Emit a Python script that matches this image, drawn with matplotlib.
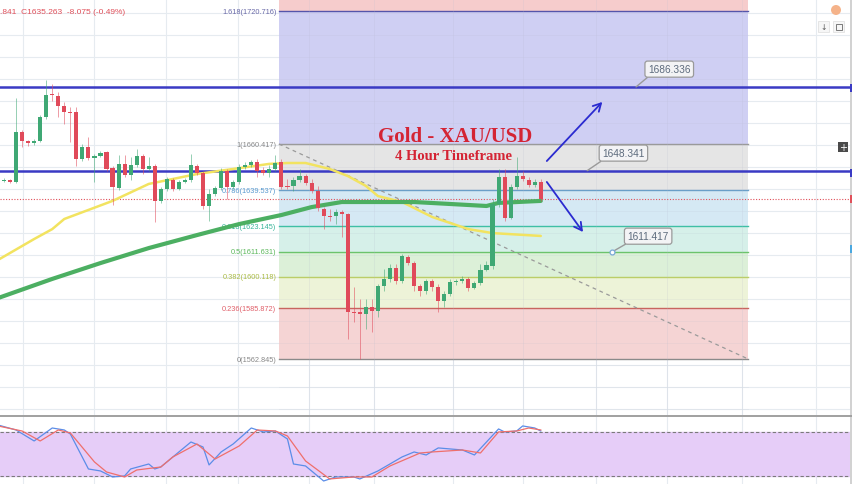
import matplotlib
matplotlib.use("Agg")
import matplotlib.pyplot as plt
from matplotlib.patches import Rectangle, Ellipse
from matplotlib.lines import Line2D

# ---------------- XAU/USD 4H candles ----------------
opens = [1643.6, 1644.1, 1643.2, 1665.9, 1661.8, 1660.9, 1661.8, 1672.7, 1683.1, 1682.2,
         1677.6, 1674.9, 1674.9, 1653.6, 1659.1, 1654.1, 1655.0, 1656.8, 1649.5, 1640.5,
         1651.4, 1646.4, 1650.9, 1655.0, 1649.1, 1650.4, 1634.6, 1640.0, 1644.1, 1640.0,
         1643.2, 1644.1, 1650.4, 1647.3, 1632.3, 1637.7, 1640.5, 1648.2, 1640.9, 1643.2,
         1650.0, 1650.9, 1652.3, 1648.6, 1647.3, 1649.1, 1652.3, 1641.4, 1641.4, 1644.1,
         1645.9, 1642.7, 1639.1, 1630.9, 1627.8, 1627.8, 1629.6, 1628.7, 1584.2, 1584.2,
         1583.3, 1586.5, 1584.6, 1596.0, 1599.2, 1604.1, 1598.3, 1609.1, 1606.4, 1596.0,
         1593.7, 1598.3, 1595.5, 1589.2, 1592.4, 1597.8, 1598.3, 1599.2, 1595.1, 1597.3,
         1603.3, 1605.1, 1633.2, 1645.5, 1626.8, 1640.9, 1645.9, 1644.1, 1641.8, 1643.3]
highs = [1645.0, 1644.5, 1681.3, 1666.8, 1662.2, 1662.7, 1673.6, 1689.5, 1687.6, 1684.0,
         1679.5, 1677.2, 1677.2, 1660.4, 1663.6, 1655.9, 1657.2, 1657.2, 1650.4, 1655.4,
         1655.4, 1654.5, 1658.2, 1655.9, 1654.5, 1651.4, 1640.9, 1645.5, 1645.0, 1644.1,
         1645.0, 1655.9, 1651.4, 1648.2, 1640.0, 1641.4, 1649.5, 1649.1, 1644.1, 1651.4,
         1652.3, 1653.2, 1653.6, 1650.0, 1650.9, 1655.4, 1653.6, 1644.5, 1645.5, 1649.1,
         1646.8, 1644.5, 1641.4, 1631.8, 1630.9, 1630.9, 1630.5, 1629.1, 1595.5, 1590.1,
         1590.1, 1590.1, 1596.9, 1603.7, 1606.0, 1606.0, 1610.5, 1610.0, 1607.3, 1596.9,
         1599.2, 1599.2, 1596.9, 1593.7, 1599.2, 1599.2, 1600.5, 1600.1, 1598.3, 1606.0,
         1607.3, 1635.5, 1649.1, 1649.1, 1642.3, 1654.5, 1648.2, 1645.5, 1644.5, 1644.5]
lows = [1643.2, 1642.7, 1642.7, 1659.1, 1659.5, 1660.0, 1661.3, 1671.8, 1679.9, 1672.7,
        1669.5, 1661.3, 1650.4, 1652.7, 1653.2, 1643.2, 1654.5, 1648.2, 1632.7, 1639.5,
        1645.5, 1644.1, 1650.0, 1646.8, 1648.2, 1625.0, 1633.7, 1639.1, 1639.1, 1639.5,
        1642.7, 1643.2, 1646.4, 1630.9, 1625.5, 1636.8, 1639.5, 1635.5, 1640.0, 1642.3,
        1649.1, 1650.0, 1645.5, 1646.4, 1645.5, 1648.2, 1640.0, 1640.0, 1639.1, 1643.2,
        1641.8, 1638.2, 1630.0, 1621.8, 1625.5, 1624.1, 1618.2, 1571.9, 1579.6, 1562.845,
        1576.5, 1575.1, 1581.9, 1593.7, 1597.8, 1596.9, 1597.3, 1605.5, 1593.7, 1591.4,
        1592.4, 1593.7, 1584.2, 1586.5, 1591.4, 1596.4, 1597.3, 1593.7, 1594.6, 1596.4,
        1602.8, 1603.7, 1631.8, 1625.5, 1626.4, 1640.0, 1643.6, 1640.9, 1640.9, 1634.6]
closes = [1644.1, 1643.2, 1665.9, 1661.8, 1660.9, 1661.8, 1672.7, 1682.6, 1682.6, 1677.6,
          1674.9, 1674.5, 1653.6, 1659.1, 1654.1, 1655.0, 1656.3, 1649.1, 1640.9, 1651.4,
          1646.4, 1650.9, 1655.0, 1649.1, 1650.4, 1634.6, 1640.0, 1644.5, 1640.0, 1643.2,
          1644.1, 1650.9, 1647.3, 1632.3, 1637.7, 1640.5, 1648.2, 1640.9, 1643.2, 1650.0,
          1650.9, 1652.3, 1648.2, 1647.3, 1649.1, 1651.8, 1640.9, 1640.9, 1644.1, 1645.9,
          1642.7, 1639.1, 1631.4, 1627.8, 1627.3, 1629.6, 1628.7, 1584.2, 1583.7, 1583.3,
          1586.5, 1584.6, 1596.0, 1599.2, 1604.1, 1598.3, 1609.6, 1606.4, 1596.0, 1593.7,
          1598.3, 1595.5, 1589.2, 1592.4, 1597.8, 1598.3, 1599.2, 1595.1, 1597.3, 1603.3,
          1605.5, 1633.2, 1645.5, 1626.8, 1640.9, 1645.9, 1644.5, 1641.8, 1643.2, 1635.263]

# moving averages (bar index, price)
ma_fast_idx = [-1, 5, 8, 10, 18, 24, 32, 38, 44, 47, 50, 54, 57, 60, 62, 66, 71, 77, 81, 89]
ma_fast_val = [1607.8, 1617.3, 1621.8, 1626.4, 1634.6, 1642.3, 1646.8, 1649.1, 1651.4, 1651.8,
               1651.8, 1649.1, 1645.9, 1641.4, 1636.8, 1634.1, 1627.3, 1621.8, 1620.0, 1618.7]
ma_slow_idx = [-1, 8, 16, 24, 32, 39, 46, 51, 56, 61, 68, 74, 80, 82, 89]
ma_slow_val = [1590.5, 1599.2, 1606.4, 1613.2, 1619.1, 1624.1, 1628.2, 1631.8, 1634.1, 1634.1,
               1634.1, 1633.2, 1632.3, 1633.7, 1634.6]

# Fibonacci retracement
fib_ratios = ["0", "0.236", "0.382", "0.5", "0.618", "0.786", "1", "1.618"]
fib_prices = [1562.845, 1585.872, 1600.118, 1611.631, 1623.145, 1639.537, 1660.417, 1720.716]

# horizontal levels and targets
resistance_levels = [1686.336, 1648.341]
target_level = 1611.417
last_close = 1635.263
header_text = ".841  C1635.263  -8.075 (-0.49%)"

# stochastic oscillator
stoch_k_idx = [-1, 2, 5, 8, 10, 11, 14, 16, 18, 20, 21, 24, 25, 26, 29, 31, 33, 34, 36, 38, 41,
               43, 45, 47, 48, 50, 53, 55, 58, 59, 62, 66, 68, 70, 72, 76, 78, 80, 82, 83, 85,
               86, 88, 89]
stoch_k_val = [89.6, 82.8, 67.8, 85.5, 82.8, 77.3, 29.6, 26.9, 18.7, 20.1, 29.6, 36.4, 29.6, 32.3,
               52.8, 66.4, 59.6, 35.1, 52.8, 63.7, 85.5, 80.1, 81.4, 70.5, 36.4, 33.7, 13.2,
               18.7, 18.7, 16.0, 26.9, 46.0, 52.8, 48.7, 58.3, 55.5, 48.7, 66.4, 84.2, 80.1,
               81.4, 88.3, 85.5, 81.4]
stoch_d_idx = [-1, 3, 6, 9, 11, 15, 17, 20, 22, 26, 28, 32, 35, 39, 42, 45, 47, 50, 54, 58, 61,
               64, 69, 71, 76, 79, 82, 85, 87, 89]
stoch_d_val = [88.3, 81.4, 67.8, 82.8, 78.7, 39.2, 25.5, 18.7, 28.2, 32.3, 46.0, 63.7, 43.2,
               61.0, 82.8, 81.4, 74.6, 40.5, 16.0, 18.7, 18.7, 33.7, 51.4, 52.8, 55.5, 51.4,
               80.1, 81.4, 85.5, 82.8]

# ---------------- layout ----------------
W, H = 852, 485
fig = plt.figure(figsize=(W / 100, H / 100), dpi=100)
fig.patch.set_facecolor("white")
ax = fig.add_axes([0, 68 / H, 1, 417 / H])
ax2 = fig.add_axes([0, 0, 1, 67 / H])
XMIN, XMAX = -0.66, 140.6
ax.set_xlim(XMIN, XMAX)
ax.set_ylim(1537.0, 1726.22)
ax2.set_xlim(XMIN, XMAX)
ax2.set_ylim(9.1, 100.5)
for a in (ax, ax2):
    a.axis("off")

grid_x = [3.15, 14.9, 26.9, 38.8, 50.6, 61.4, 74.5, 86.1, 98.2, 110.0, 122.4, 134.7]
grid_c = "#e6ebf0"
for gx in grid_x:
    ax.axvline(gx, color=grid_c, lw=0.8, zorder=0)
    ax2.axvline(gx, color=grid_c, lw=0.8, zorder=0)
for gy in range(1540, 1730, 10):
    ax.axhline(gy, color=grid_c, lw=0.8, zorder=0)
ax2.axhline(50, color=grid_c, lw=0.8, zorder=0)

# Fibonacci zones
FX0, FX1 = 45.6, 123.4
zone_colors = ["#f5d2d2", "#edf3d6", "#daf0d6", "#d4f0e8", "#d3e8f4", "#e4e4e4", "#cdcdf3"]
line_colors = ["#8a8a8a", "#c8655f", "#bcd05a", "#6cc36c", "#3fbfa5", "#6a9fc8", "#9a9a9a", "#5555aa"]
label_colors = ["#888888", "#e0606a", "#aabb44", "#5cb85c", "#38b59a", "#5b9bd0", "#888888", "#6a6aa8"]
for k in range(len(fib_prices) - 1):
    ax.add_patch(Rectangle((FX0, fib_prices[k]), FX1 - FX0, fib_prices[k + 1] - fib_prices[k],
                           fc=zone_colors[k], ec="none", zorder=0.5, alpha=0.95))
ax.add_patch(Rectangle((FX0, fib_prices[-1]), FX1 - FX0, 1726.22 - fib_prices[-1] + 2,
                       fc="#f6cccc", ec="none", zorder=0.5))
for k, (r, p) in enumerate(zip(fib_ratios, fib_prices)):
    ax.plot([FX0, FX1], [p, p], color=line_colors[k], lw=1.0, zorder=1)
    ax.text(FX0 - 0.45, p, f"{r}({p:.3f})", ha="right", va="center", fontsize=5.3,
            family="Liberation Sans", color=label_colors[k], zorder=2.5)
# faint grid showing through the zones
for gx in grid_x:
    if FX0 < gx < FX1:
        ax.axvline(gx, color="#b8bcd0", lw=0.6, alpha=0.2, zorder=1)
for gy in range(1540, 1730, 10):
    ax.plot([FX0, FX1], [gy, gy], color="#b8bcd0", lw=0.6, alpha=0.15, zorder=1)

ax.plot([FX0, FX1], [fib_prices[6], fib_prices[0]], color="#9a9a9a", lw=0.9,
        dashes=(3, 3), zorder=2)

# horizontal levels
for lv in resistance_levels:
    ax.axhline(lv, color="#3a3ac4", lw=1.8, zorder=3)
ax.axhline(last_close, color="#e0505a", lw=0.8, ls=(0, (1, 1.5)), zorder=3)

# moving averages
ax.plot(ma_fast_idx, ma_fast_val, color="#f2e360", lw=1.8, zorder=4, solid_capstyle="round")
ax.plot(ma_slow_idx, ma_slow_val, color="#4caf62", lw=3.0, zorder=4, solid_capstyle="round")

# candles
up_c, dn_c = "#3fa874", "#e04a5a"
idx = list(range(len(opens)))
cols = [up_c if c >= o else dn_c for o, c in zip(opens, closes)]
ax.vlines(idx, lows, highs, colors=cols, lw=0.7, alpha=0.55, zorder=5)
bottoms = [min(o, c) for o, c in zip(opens, closes)]
heights = [max(abs(c - o), 0.45) for o, c in zip(opens, closes)]
ax.bar(idx, heights, bottom=bottoms, width=0.68, color=cols, lw=0, zorder=5.5)

# titles
ax.text(74.8, 1664.2, "Gold - XAU/USD", family="Liberation Serif", weight="bold",
        fontsize=15, color="#d42434", ha="center", va="center", zorder=7)
ax.text(74.6, 1655.4, "4 Hour Timeframe", family="Liberation Serif", weight="bold",
        fontsize=10.5, color="#d42434", ha="center", va="center", zorder=7)

# direction arrows
arrow_c = "#2b2bd0"
ax.annotate("", xy=(99.2, 1679.5), xytext=(90.0, 1652.7),
            arrowprops=dict(arrowstyle="->,head_length=0.55,head_width=0.3", color=arrow_c,
                            lw=1.3, shrinkA=0, shrinkB=0), zorder=7)
ax.annotate("", xy=(96.0, 1620.5), xytext=(90.0, 1643.2),
            arrowprops=dict(arrowstyle="->,head_length=0.55,head_width=0.3", color=arrow_c,
                            lw=1.3, shrinkA=0, shrinkB=0), zorder=7)

# price callouts
def callout(text, point, box):
    ax.annotate(text, xy=point, xytext=box, ha="center", va="center", fontsize=7.3,
                family="Liberation Sans", color="#5d6b7d", zorder=8,
                bbox=dict(boxstyle="round,pad=0.3,rounding_size=0.25", fc="#f3f3f5",
                          ec="#9a9a9a", lw=0.9),
                arrowprops=dict(arrowstyle="-", color="#9a9a9a", lw=1.0,
                                shrinkA=0, shrinkB=0, relpos=(0.08, 0.0)))

callout(f"{resistance_levels[0]:.3f}", (104.8, resistance_levels[0]), (110.3, 1694.4))
callout(f"{resistance_levels[1]:.3f}", (96.7, resistance_levels[1]), (102.7, 1656.3))
callout(f"{target_level:.3f}", (100.8, target_level), (106.8, 1618.6))
ax.plot([100.8], [target_level], marker="o", ms=3.5, mfc="white", mec="#7aa8d8",
        mew=0.9, zorder=9)

# header
fig.text(0.0, 1 - 12 / H, header_text, fontsize=6.0, family="Liberation Sans",
         color="#e0505a", ha="left", va="center")

# small toolbar bits on the right
fig.add_artist(Ellipse((836 / W, 1 - 11 / H), 10 / W, 10 / H, fc="#f5b38a", ec="none"))
fig.add_artist(Rectangle((818 / W, 1 - 33 / H), 11 / W, 11 / H, fc="#f6f6f6", ec="#dddddd", lw=0.5))
fig.text(823.5 / W, 1 - 27.5 / H, "↓", fontsize=5.5, color="#555555", ha="center", va="center")
fig.add_artist(Rectangle((833 / W, 1 - 33 / H), 11 / W, 11 / H, fc="#f6f6f6", ec="#dddddd", lw=0.5))
fig.add_artist(Rectangle((835.5 / W, 1 - 30.5 / H), 6 / W, 6 / H, fc="none", ec="#666666", lw=0.6))
fig.add_artist(Rectangle((838 / W, 1 - 153 / H), 10 / W, 10 / H, fc="#4a4a4a", ec="none"))
fig.text(843 / W, 1 - 148 / H, "+", fontsize=7, color="white", ha="center", va="center")
fig.add_artist(Rectangle((849.5 / W, 0), 2.5 / W, 1, fc="#d2d2d2", ec="none"))
for ty, tc in [(89, "#3a3ac4"), (174, "#3a3ac4"), (200, "#e0505a"), (250, "#4aa8e0")]:
    fig.add_artist(Rectangle((849.5 / W, 1 - (ty + 4) / H), 2.5 / W, 8 / H, fc=tc, ec="none"))

# stochastic panel
ax2.fill_between([XMIN, XMAX], 20, 80, color="#e6cdf8", zorder=0.5)
ax2.axhline(80, color="#7a7a7a", lw=0.8, dashes=(3, 2), zorder=1)
ax2.axhline(20, color="#7a7a7a", lw=0.8, dashes=(3, 2), zorder=1)
ax2.plot(stoch_k_idx, stoch_k_val, color="#5b8de8", lw=0.9, zorder=3)
ax2.plot(stoch_d_idx, stoch_d_val, color="#ef6f6c", lw=0.9, zorder=3)
fig.add_artist(Line2D([0, 1], [1 - 417 / H] * 2, color="#a0a0a0", lw=1.4))

fig.savefig("out.png", dpi=100)
